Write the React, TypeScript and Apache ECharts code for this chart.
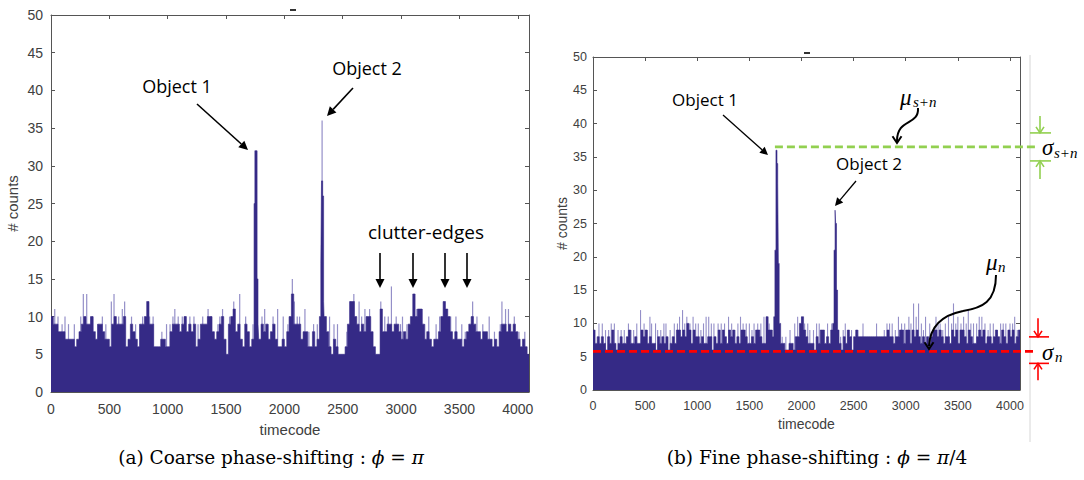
import React, { useEffect, useRef } from "react";
import * as echarts from "echarts";

const BIN = 20;
const X_MAX = 4096;
const X_STEP = 500;
const Y_MAX = 50;
const Y_STEP = 5;

// (a) coarse phase-shifting: counts per 20-timecode bin (dense level)
const leftNoise = [
  10, 9, 9, 8, 8, 8, 7, 7, 7, 7,
  6, 7, 8, 9, 10, 9, 9, 10, 8, 7,
  9, 9, 8, 7, 7, 6, 9, 10, 9, 9,
  9, 10, 6, 7, 9, 8, 7, 6, 9, 9,
  10, 12, 9, 9, 6, 6, 6, 7, 7, 6,
  6, 8, 9, 9, 9, 8, 9, 10, 8, 9,
  8, 9, 6, 7, 9, 9, 9, 10, 10, 8,
  7, 8, 9, 10, 7, 5, 9, 10, 11, 8,
  9, 7, 6, 9, 8, 6, 7, 9, 9, 7,
  9, 8, 9, 7, 8, 9, 7, 6, 6, 7,
  6, 8, 10, 13, 9, 9, 9, 7, 8, 8,
  6, 6, 8, 6, 7, 10, 10, 10, 8, 6,
  5, 7, 6, 5, 5, 5, 6, 9, 12, 12,
  10, 9, 8, 9, 8, 10, 10, 8, 6, 5,
  5, 11, 8, 8, 9, 9, 8, 9, 9, 8,
  7, 8, 7, 9, 10, 13, 10, 11, 11, 9,
  7, 8, 7, 6, 7, 7, 8, 10, 12, 11,
  10, 8, 7, 8, 7, 7, 6, 7, 8, 9,
  10, 9, 8, 8, 7, 8, 8, 7, 7, 6,
  7, 6, 8, 9, 9, 8, 9, 8, 9, 8,
  7, 6, 7, 6, 5,
];
const leftPeak1T = [1740, 1747, 1766, 1774];
const leftPeak1V = [25, 32, 15, 9];
const leftPeak2T = [2300, 2312, 2318, 2328, 2336];
const leftPeak2V = [10, 17, 28, 26, 12];
const leftSpikeT = [32, 60, 95, 120, 150, 200, 255, 277, 306, 340, 360, 400, 440, 470, 517, 540, 580, 611, 631, 690, 725, 760, 785, 845, 875, 950, 990, 1020, 1045, 1061, 1090, 1125, 1150, 1190, 1225, 1260, 1300, 1346, 1370, 1430, 1447, 1470, 1530, 1566, 1617, 1668, 1731, 1808, 1831, 1860, 1903, 1942, 1990, 2030, 2068, 2085, 2110, 2130, 2176, 2210, 2250, 2282, 2323, 2387, 2425, 2455, 2535, 2561, 2595, 2640, 2662, 2690, 2730, 2826, 2860, 2890, 2917, 2958, 2995, 3012, 3050, 3135, 3180, 3203, 3237, 3300, 3330, 3385, 3425, 3470, 3520, 3550, 3613, 3650, 3700, 3755, 3800, 3850, 3864, 3895, 3920, 3970, 4010, 4060];
const leftSpikeV = [11, 10, 9, 10, 9, 9, 10, 13, 13, 10, 10, 9, 10, 9, 12, 13, 10, 11, 12, 10, 9, 9, 10, 10, 10, 8, 9, 9, 10, 11, 10, 10, 10, 10, 10, 9, 10, 11, 10, 9, 10, 11, 10, 12, 13, 10, 9, 10, 11, 9, 10, 11, 10, 9, 15, 12, 10, 10, 11, 8, 9, 9, 36, 10, 9, 9, 8, 12, 13, 12, 10, 11, 11, 12, 10, 10, 14, 10, 9, 10, 9, 11, 11, 9, 10, 9, 10, 11, 10, 10, 9, 8, 12, 10, 9, 10, 8, 9, 12, 11, 11, 10, 8, 8];

// (b) fine phase-shifting
const rightNoise = [
  9, 7, 8, 7, 8, 7, 6, 8, 7, 9,
  7, 6, 7, 8, 7, 7, 8, 9, 7, 7,
  8, 7, 7, 9, 8, 9, 7, 8, 7, 7,
  6, 8, 7, 8, 7, 8, 6, 7, 8, 7,
  9, 9, 8, 9, 8, 10, 9, 7, 9, 8,
  8, 7, 8, 7, 7, 8, 8, 6, 8, 7,
  9, 7, 9, 8, 7, 9, 8, 9, 7, 8,
  7, 9, 9, 8, 7, 7, 8, 7, 9, 9,
  8, 7, 7, 11, 9, 9, 8, 8, 8, 8,
  7, 7, 6, 6, 7, 7, 6, 8, 8, 10,
  11, 9, 8, 7, 7, 7, 6, 8, 7, 9,
  9, 7, 8, 7, 9, 8, 8, 8, 7, 6,
  8, 7, 9, 8, 6, 8, 9, 8, 8, 8,
  8, 8, 8, 8, 8, 8, 8, 8, 8, 8,
  8, 9, 8, 8, 7, 8, 8, 9, 9, 7,
  9, 9, 7, 9, 8, 9, 8, 7, 8, 7,
  8, 7, 8, 9, 9, 8, 9, 8, 7, 8,
  8, 7, 9, 8, 9, 7, 9, 9, 8, 7,
  9, 8, 7, 7, 8, 9, 8, 9, 7, 8,
  8, 7, 8, 9, 8, 7, 9, 8, 7, 9,
  8, 9, 7, 8, 9,
];
const rightPeak1T = [1720, 1734, 1745, 1755, 1765, 1772, 1778, 1786];
const rightPeak1V = [8, 11, 21, 36, 34, 31, 19, 10];
const rightPeak2T = [2300, 2312, 2322, 2328, 2336, 2346];
const rightPeak2V = [10, 21, 27, 25, 15, 9];
const rightSpikeT = [10, 57, 89, 120, 150, 175, 205, 240, 270, 300, 340, 365, 390, 420, 456, 490, 520, 546, 562, 600, 620, 650, 680, 700, 740, 780, 810, 830, 859, 880, 900, 930, 960, 985, 1010, 1035, 1060, 1085, 1110, 1135, 1160, 1200, 1230, 1262, 1300, 1330, 1360, 1390, 1415, 1440, 1470, 1500, 1525, 1545, 1580, 1610, 1640, 1665, 1690, 1710, 1815, 1850, 1890, 1935, 1963, 2000, 2030, 2060, 2080, 2115, 2145, 2170, 2210, 2250, 2290, 2375, 2400, 2420, 2445, 2480, 2540, 2590, 2720, 2794, 2820, 2845, 2870, 2900, 2930, 2960, 2990, 3030, 3050, 3075, 3100, 3123, 3150, 3170, 3190, 3230, 3260, 3290, 3310, 3330, 3355, 3380, 3410, 3440, 3458, 3480, 3500, 3530, 3555, 3580, 3600, 3625, 3650, 3680, 3705, 3730, 3760, 3790, 3810, 3840, 3880, 3910, 3935, 3960, 4000, 4025, 4045, 4070];
const rightSpikeV = [9, 10, 10, 9, 9, 10, 10, 9, 9, 9, 10, 9, 9, 10, 12, 10, 9, 11, 10, 10, 9, 9, 10, 10, 9, 10, 10, 11, 12, 10, 11, 10, 11, 10, 10, 9, 10, 11, 11, 10, 10, 10, 10, 10, 11, 10, 9, 10, 11, 10, 10, 10, 9, 10, 10, 10, 11, 11, 10, 9, 8, 8, 9, 10, 11, 11, 10, 10, 9, 9, 10, 10, 9, 10, 10, 8, 9, 10, 9, 9, 9, 10, 10, 9, 10, 10, 10, 9, 11, 10, 10, 11, 10, 13, 11, 13, 10, 9, 11, 10, 9, 11, 10, 10, 9, 10, 11, 10, 13, 10, 11, 10, 11, 10, 12, 10, 10, 10, 11, 11, 10, 9, 10, 10, 9, 10, 10, 10, 10, 10, 11, 9];

const muSignalNoise = 36.5;
const muNoise = 5.8;
const greenStartT = 1745;

const DARK = "#352a86";
const LIGHT = "#948fc8";
const AXIS = "#555555";
const LABEL = "#404040";
const GREEN = "#92d050";
const RED = "#ff0000";

function peakEnd(T: number[]) {
  return Math.ceil((T[T.length - 1] + 1) / BIN) * BIN;
}

function stepData(noise: number[], peaks: [number[], number[]][]) {
  const pts: number[][] = [];
  noise.forEach((v, i) => {
    const t = i * BIN;
    if (!peaks.some(([T]) => t >= T[0] && t < peakEnd(T))) pts.push([t, v]);
  });
  peaks.forEach(([T, V]) => T.forEach((t, k) => pts.push([t, V[k]])));
  pts.sort((a, b) => a[0] - b[0]);
  pts.push([X_MAX, pts[pts.length - 1][1]]);
  return pts;
}

function pairs(T: number[], V: number[]) {
  return T.map((t, i) => [t, V[i]]);
}

function xAxes(grid: number, fs: number, nameFs: number, nameGap: number, margin: number) {
  const base = {
    type: "value" as const,
    gridIndex: grid,
    min: 0,
    max: X_MAX,
    interval: X_STEP,
    splitLine: { show: false },
    axisLine: { show: true, onZero: false, lineStyle: { color: AXIS, width: 1 } },
    axisTick: { show: true, inside: true, length: 4, lineStyle: { color: AXIS } },
  };
  return [
    {
      ...base,
      position: "bottom",
      name: "timecode",
      nameLocation: "middle",
      nameGap,
      nameTextStyle: { fontFamily: "Liberation Sans", fontSize: nameFs, color: LABEL },
      axisLabel: {
        fontFamily: "Liberation Sans",
        fontSize: fs,
        color: LABEL,
        margin,
        formatter: (v: number) => (v % X_STEP === 0 ? String(v) : ""),
      },
    },
    { ...base, position: "top", axisLabel: { show: false } },
  ];
}

function yAxes(grid: number, fs: number, nameFs: number, nameGap: number, margin: number) {
  const base = {
    type: "value" as const,
    gridIndex: grid,
    min: 0,
    max: Y_MAX,
    interval: Y_STEP,
    splitLine: { show: false },
    axisLine: { show: true, onZero: false, lineStyle: { color: AXIS, width: 1 } },
    axisTick: { show: true, inside: true, length: 4, lineStyle: { color: AXIS } },
  };
  return [
    {
      ...base,
      position: "left",
      name: "# counts",
      nameLocation: "middle",
      nameGap,
      nameRotate: 90,
      nameTextStyle: { fontFamily: "Liberation Sans", fontSize: nameFs, color: LABEL },
      axisLabel: { fontFamily: "Liberation Sans", fontSize: fs, color: LABEL, margin },
    },
    { ...base, position: "right", axisLabel: { show: false } },
  ];
}

function arrow(x1: number, y1: number, x2: number, y2: number, color = "#000", w = 1.6, head = 9, hw = 4.5) {
  const dx = x2 - x1, dy = y2 - y1;
  const L = Math.hypot(dx, dy);
  const ux = dx / L, uy = dy / L;
  const bx = x2 - ux * head, by = y2 - uy * head;
  return [
    { type: "line", silent: true, shape: { x1, y1, x2: bx, y2: by }, style: { stroke: color, lineWidth: w } },
    {
      type: "polygon",
      silent: true,
      shape: { points: [[x2, y2], [bx - uy * hw, by + ux * hw], [bx + uy * hw, by - ux * hw]] },
      style: { fill: color },
    },
  ];
}

function vHead(x: number, y: number, dir: number, color: string, w = 1.5, s = 5) {
  // open V arrowhead; dir = 1 points down, -1 points up
  return {
    type: "polyline",
    silent: true,
    shape: { points: [[x - s, y - dir * s * 1.5], [x, y], [x + s, y - dir * s * 1.5]] },
    style: { stroke: color, lineWidth: w, fill: null },
  };
}

function txt(x: number, y: number, text: string, font: string, align = "center", fill = "#000") {
  return { type: "text", silent: true, x, y, style: { text, font, fill, align, verticalAlign: "middle" } };
}

const ANN = '"Open Sans", "Noto Sans", sans-serif';
const MATH = '"Liberation Serif", "DejaVu Serif", serif';

export default function App() {
  const ref = useRef<HTMLDivElement>(null);

  useEffect(() => {
    if (!ref.current) return;
    const chart = echarts.init(ref.current, undefined, { renderer: "svg" });

    const option: any = {
      animation: false,
      backgroundColor: "#ffffff",
      grid: [
        { left: 51, top: 15, width: 478, height: 377 },
        { left: 593, top: 57, width: 427, height: 333 },
      ],
      xAxis: [...xAxes(0, 14, 15, 30, 10), ...xAxes(1, 12.5, 14, 26, 9)],
      yAxis: [...yAxes(0, 14, 15, 31, 8), ...yAxes(1, 12.5, 14, 24, 6)],
      series: [
        {
          type: "bar",
          xAxisIndex: 0,
          yAxisIndex: 0,
          barWidth: 1.2,
          itemStyle: { color: LIGHT },
          data: pairs(leftSpikeT, leftSpikeV),
        },
        {
          type: "line",
          xAxisIndex: 0,
          yAxisIndex: 0,
          step: "end",
          symbol: "none",
          lineStyle: { color: DARK, width: 0.6 },
          areaStyle: { color: DARK, opacity: 1 },
          data: stepData(leftNoise, [
            [leftPeak1T, leftPeak1V],
            [leftPeak2T, leftPeak2V],
          ]),
        },
        {
          type: "bar",
          xAxisIndex: 2,
          yAxisIndex: 2,
          barWidth: 1.1,
          itemStyle: { color: LIGHT },
          data: pairs(rightSpikeT, rightSpikeV),
        },
        {
          type: "line",
          xAxisIndex: 2,
          yAxisIndex: 2,
          step: "end",
          symbol: "none",
          lineStyle: { color: DARK, width: 0.6 },
          areaStyle: { color: DARK, opacity: 1 },
          data: stepData(rightNoise, [
            [rightPeak1T, rightPeak1V],
            [rightPeak2T, rightPeak2V],
          ]),
        },
      ],
    };
    chart.setOption(option);

    const gStart = chart.convertToPixel({ gridIndex: 1 } as any, [greenStartT, muSignalNoise]) as number[];
    const rStart = chart.convertToPixel({ gridIndex: 1 } as any, [0, muNoise]) as number[];
    const gy = gStart[1];
    const ry = rStart[1];

    const g: any[] = [
      // clipped title remnants
      { type: "rect", silent: true, shape: { x: 290, y: 9, width: 6, height: 2 }, style: { fill: "#333" } },
      { type: "rect", silent: true, shape: { x: 804, y: 52, width: 6, height: 2 }, style: { fill: "#333" } },
      // left annotations
      txt(177, 86, "Object 1", `18px ${ANN}`),
      ...arrow(197, 104, 248, 150),
      txt(367, 68, "Object 2", `18px ${ANN}`),
      ...arrow(353, 88, 327, 116),
      txt(426, 232, "clutter-edges", `19px ${ANN}`),
      ...arrow(380, 253, 380, 288),
      ...arrow(413, 253, 413, 288),
      ...arrow(445, 253, 445, 288),
      ...arrow(467, 253, 467, 288),
      // right annotations
      txt(705, 99, "Object 1", `17px ${ANN}`),
      ...arrow(723, 115, 768, 155, "#000", 1.3, 8, 4),
      txt(869, 163, "Object 2", `17px ${ANN}`),
      ...arrow(856, 181, 835, 206, "#000", 1.3, 8, 4),
      // separator
      { type: "line", silent: true, shape: { x1: 1030, y1: 55, x2: 1030, y2: 442 }, style: { stroke: "#d6d6d6", lineWidth: 1 } },
      // green mean line and sigma bracket
      {
        type: "line",
        silent: true,
        shape: { x1: gStart[0], y1: gy, x2: 1035, y2: gy },
        style: { stroke: GREEN, lineWidth: 2.6, lineDash: [8, 4] },
      },
      { type: "line", silent: true, shape: { x1: 1030, y1: gy - 14, x2: 1051, y2: gy - 14 }, style: { stroke: GREEN, lineWidth: 1.6 } },
      { type: "line", silent: true, shape: { x1: 1030, y1: gy + 14, x2: 1051, y2: gy + 14 }, style: { stroke: GREEN, lineWidth: 1.6 } },
      { type: "line", silent: true, shape: { x1: 1040, y1: gy - 31, x2: 1040, y2: gy - 14 }, style: { stroke: GREEN, lineWidth: 1.6 } },
      { type: "line", silent: true, shape: { x1: 1040, y1: gy + 14, x2: 1040, y2: gy + 32 }, style: { stroke: GREEN, lineWidth: 1.6 } },
      vHead(1040, gy - 14, 1, GREEN, 1.6, 4),
      vHead(1040, gy + 14, -1, GREEN, 1.6, 4),
      txt(1042, gy + 1, "σ", `italic 23px ${MATH}`, "left"),
      txt(1054, gy + 6, "s+n", `italic 15px ${MATH}`, "left"),
      // red mean line and sigma bracket
      {
        type: "line",
        silent: true,
        shape: { x1: rStart[0], y1: ry, x2: 1037, y2: ry },
        style: { stroke: RED, lineWidth: 2.6, lineDash: [8, 4] },
      },
      { type: "line", silent: true, shape: { x1: 1029, y1: ry - 14.5, x2: 1049, y2: ry - 14.5 }, style: { stroke: RED, lineWidth: 1.6 } },
      { type: "line", silent: true, shape: { x1: 1029, y1: ry + 12, x2: 1049, y2: ry + 12 }, style: { stroke: RED, lineWidth: 1.6 } },
      { type: "line", silent: true, shape: { x1: 1038, y1: ry - 33, x2: 1038, y2: ry - 14.5 }, style: { stroke: RED, lineWidth: 1.6 } },
      { type: "line", silent: true, shape: { x1: 1038, y1: ry + 12, x2: 1038, y2: ry + 29 }, style: { stroke: RED, lineWidth: 1.6 } },
      vHead(1038, ry - 14.5, 1, RED, 1.6, 4),
      vHead(1038, ry + 12, -1, RED, 1.6, 4),
      txt(1042, ry + 1, "σ", `italic 23px ${MATH}`, "left"),
      txt(1055, ry + 6, "n", `italic 15px ${MATH}`, "left"),
      // mu labels and curved arrows
      txt(900, 97, "μ", `italic 23px ${MATH}`, "left"),
      txt(913, 102, "s+n", `italic 15px ${MATH}`, "left"),
      {
        type: "bezierCurve",
        silent: true,
        shape: { x1: 918, y1: 108, cpx1: 919, cpy1: 126, cpx2: 897, cpy2: 118, x2: 897, y2: 141 },
        style: { stroke: "#000", lineWidth: 2, fill: null },
      },
      vHead(897, 143, 1, "#000", 2, 4.5),
      txt(986, 262, "μ", `italic 23px ${MATH}`, "left"),
      txt(998, 267, "n", `italic 15px ${MATH}`, "left"),
      {
        type: "bezierCurve",
        silent: true,
        shape: { x1: 996, y1: 275, cpx1: 996, cpy1: 302, cpx2: 982, cpy2: 308, x2: 963, y2: 311 },
        style: { stroke: "#000", lineWidth: 2, fill: null },
      },
      {
        type: "bezierCurve",
        silent: true,
        shape: { x1: 963, y1: 311, cpx1: 943, cpy1: 315, cpx2: 930, cpy2: 326, x2: 929, y2: 346 },
        style: { stroke: "#000", lineWidth: 2, fill: null },
      },
      vHead(929, 349, 1, "#000", 2, 4.5),
      // captions
      {
        type: "text",
        silent: true,
        x: 271,
        y: 457,
        style: {
          text: "{n|(a) Coarse phase-shifting : }{i|ϕ}{n| = }{i|π}",
          align: "center",
          verticalAlign: "middle",
          rich: {
            n: { fontFamily: "DejaVu Serif", fontSize: 18.5, fill: "#000" },
            i: { fontFamily: "DejaVu Serif", fontStyle: "italic", fontSize: 18.5, fill: "#000" },
          },
        },
      },
      {
        type: "text",
        silent: true,
        x: 817,
        y: 457,
        style: {
          text: "{n|(b) Fine phase-shifting : }{i|ϕ}{n| = }{i|π}{n|/4}",
          align: "center",
          verticalAlign: "middle",
          rich: {
            n: { fontFamily: "DejaVu Serif", fontSize: 18.5, fill: "#000" },
            i: { fontFamily: "DejaVu Serif", fontStyle: "italic", fontSize: 18.5, fill: "#000" },
          },
        },
      },
    ].map((e: any) => ({ ...e, z: 100 }));
    chart.setOption({ graphic: g });

    return () => chart.dispose();
  }, []);

  return (
    <div
      ref={ref}
      style={{ position: "fixed", left: 0, top: 0, width: 1084, height: 480, background: "#fff" }}
    />
  );
}
